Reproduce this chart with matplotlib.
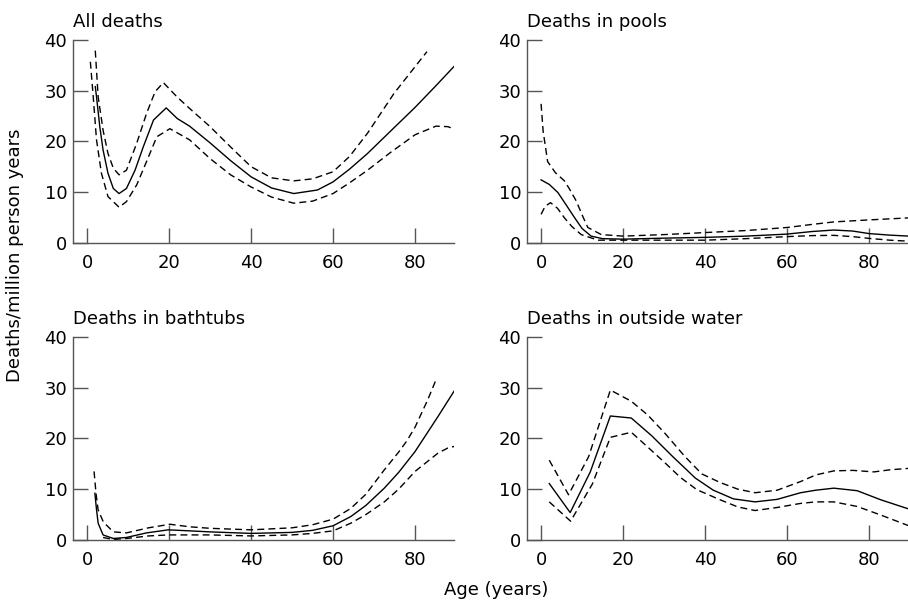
import matplotlib
matplotlib.use("Agg")
from matplotlib import pyplot as plt

plt.rcParams['font.family'] = ['DejaVu Sans']

# ---- data (age in years, deaths/million person years)
# All deaths
all_fit_age = [2, 2.3, 3.1, 3.9, 5.1, 6.4, 7.8, 9.6, 11.7, 13.7, 16.2, 19.3, 22, 25, 30, 35, 40,
               45, 50.4, 56.2, 60, 64, 68.4, 74, 80, 85, 90]
all_fit = [30.8, 28.8, 22.9, 18.3, 13.7, 10.7, 9.7, 10.7, 14.3, 18.9, 24.2, 26.6, 24.5, 23, 19.7,
           16.2, 13.0, 10.8, 9.7, 10.4, 12.0, 14.5, 17.6, 22, 26.7, 30.9, 35.2]
all_hi_age = [2, 2.7, 3.9, 5.1, 6.4, 7.8, 9.6, 12.1, 14.5, 16.6, 18.6, 21.9, 25, 30, 35, 40, 45,
              50.4, 55, 60, 64, 68.4, 74.9, 82.9]
all_hi = [37.9, 28.8, 22.2, 17.6, 14.7, 13.4, 14.3, 19.6, 25.5, 29.8, 31.6, 28.8, 26.5, 22.9,
          18.9, 15, 12.8, 12.2, 12.6, 14, 17, 21.6, 29.5, 37.7]
all_lo_age = [0.8, 1.5, 2.3, 3.5, 5.1, 7.8, 9.6, 12.1, 14.5, 17, 20.2, 25, 30, 35, 40, 45, 50.4,
              55, 60, 64, 68.4, 74, 80, 85.1, 88, 90.3]
all_lo = [35.7, 28.8, 20.3, 13.7, 9.1, 7.0, 8.1, 11.4, 16, 20.9, 22.5, 20.3, 16.6, 13.4, 11.0,
          9, 7.8, 8.2, 9.7, 11.8, 14.3, 17.8, 21.3, 23.0, 22.9, 22.2]

# Deaths in pools
pool_fit_age = [0, 2, 4.1, 6, 8.2, 10, 12.2, 15, 20, 30, 40, 50, 60, 66, 71.4, 76, 80, 85, 89.7]
pool_fit = [12.4, 11.5, 9.9, 7.6, 4.9, 2.8, 1.3, 0.8, 0.7, 0.9, 1.05, 1.3, 1.7, 2.2, 2.5, 2.3,
            1.8, 1.5, 1.3]
pool_hi_age = [0, 0.5, 1.6, 3.5, 5.7, 7, 8.6, 10, 11.4, 14.7, 20, 30, 40, 50, 60, 66, 71.4, 80,
               89.7]
pool_hi = [27.4, 22, 16, 13.8, 12.2, 10.5, 8.2, 5.5, 3.0, 1.6, 1.3, 1.6, 2.0, 2.4, 3.0, 3.6,
           4.1, 4.5, 4.9]
pool_lo_age = [0, 1, 2.3, 4, 5.7, 7.5, 9.8, 13.9, 20, 30, 40, 50, 60, 66, 71.4, 76, 80, 85, 89.7]
pool_lo = [5.6, 7.2, 7.9, 6.8, 4.9, 3.2, 1.6, 0.5, 0.5, 0.5, 0.5, 0.8, 1.2, 1.4, 1.45, 1.2,
           0.85, 0.5, 0.3]

# Deaths in bathtubs
bath_fit_age = [1.9, 2.3, 2.7, 3.9, 6.4, 9.6, 14.5, 19.8, 25, 30, 40, 50, 55, 60, 64.3, 68,
                72.5, 76, 80, 85.6, 90]
bath_fit = [9.2, 6, 3.3, 1.0, 0.3, 0.5, 1.4, 2.0, 1.8, 1.6, 1.3, 1.5, 1.9, 2.8, 4.6, 6.8, 10.2,
            13.3, 17.4, 24.3, 29.9]
bath_hi_age = [1.7, 2.2, 2.7, 4, 6.4, 9.6, 15, 20.2, 25, 30, 40, 50, 55, 60, 64.3, 68, 72.5, 76,
               78, 80, 83.1, 85.1]
bath_hi = [13.5, 9, 5.9, 3.5, 1.6, 1.4, 2.4, 3.1, 2.6, 2.3, 2.0, 2.4, 3.0, 4.1, 6.2, 9.0, 13.8,
           17.3, 19.5, 22.2, 27.6, 31.5]
bath_lo_age = [3.9, 6.4, 9.6, 15, 19.8, 30, 40, 50, 55, 60, 64.3, 68, 72.5, 76, 80, 85.6, 88, 90]
bath_lo = [0.5, 0.1, 0.3, 0.8, 1.0, 1.0, 0.8, 1.0, 1.3, 1.8, 3.3, 5.0, 7.5, 10.0, 13.5, 17.1,
           18.1, 18.5]

# Deaths in outside water
out_fit_age = [2, 7.1, 12, 16.9, 22, 27, 32, 37.6, 42, 46.9, 52.2, 57.6, 63.3, 67, 71.4,
               77.1, 82.9, 89.7]
out_fit = [11.1, 5.4, 13.4, 24.4, 24, 20.5, 16.5, 12.2, 9.8, 8.1, 7.5, 8.0, 9.3, 9.8, 10.2, 9.7,
           7.9, 6.1]
out_hi_age = [2, 6.7, 11.6, 16.9, 22, 26, 30.2, 35, 39.2, 43.7, 48, 52.2, 57.6, 63.3, 67, 71.4,
              76, 81.2, 85, 89.7]
out_hi = [15.7, 8.9, 16.4, 29.5, 27.3, 24.6, 21, 16.5, 13, 11.3, 10, 9.3, 9.8, 11.5, 12.8, 13.6,
          13.7, 13.4, 13.8, 14.1]
out_lo_age = [2, 7.2, 12.5, 16.9, 22, 26, 30.2, 34, 38, 43.7, 48, 52.2, 57.6, 63.3, 67, 71.4,
              77.1, 82.9, 89.7]
out_lo = [7.5, 3.7, 11, 20.2, 21.2, 18.3, 15.2, 12.3, 9.9, 7.9, 6.5, 5.8, 6.4, 7.2, 7.5, 7.5,
          6.6, 4.9, 2.8]

titles = ['All deaths', 'Deaths in pools', 'Deaths in bathtubs', 'Deaths in outside water']
panels = [
    (all_fit_age, all_fit, all_hi_age, all_hi, all_lo_age, all_lo),
    (pool_fit_age, pool_fit, pool_hi_age, pool_hi, pool_lo_age, pool_lo),
    (bath_fit_age, bath_fit, bath_hi_age, bath_hi, bath_lo_age, bath_lo),
    (out_fit_age, out_fit, out_hi_age, out_hi, out_lo_age, out_lo),
]

# axes rectangles in figure fractions
rects = [
    [0.0801, 0.5995, 0.4199, 0.3345],
    [0.5801, 0.5995, 0.4199, 0.3345],
    [0.0801, 0.1089, 0.4199, 0.3355],
    [0.5801, 0.1089, 0.4199, 0.3355],
]

fig = plt.figure(figsize=(9.08, 6.06), dpi=100)
axis_col = '#555555'
fs = 13

for rect, title, (fa, fv, ha, hv, la, lv) in zip(rects, titles, panels):
    ax = fig.add_axes(rect)
    ax.plot(fa, fv, color='black', lw=1.0)
    ax.plot(ha, hv, color='black', lw=1.0, ls=(0, (5, 3)))
    ax.plot(la, lv, color='black', lw=1.0, ls=(0, (5, 3)))
    ax.set_xlim(-3.5, 89.5)
    ax.set_ylim(0, 40)
    ax.set_xticks([0, 20, 40, 60, 80])
    ax.set_yticks([0, 10, 20, 30, 40])
    for s in ['top', 'right']:
        ax.spines[s].set_visible(False)
    for s in ['left', 'bottom']:
        ax.spines[s].set_color(axis_col)
        ax.spines[s].set_linewidth(1.0)
    ax.tick_params(axis='x', direction='in', length=11, width=1.0, color=axis_col,
                   pad=8, labelsize=fs)
    ax.tick_params(axis='y', direction='in', length=11, width=1.0, color=axis_col,
                   pad=4, labelsize=fs)
    ax.set_title(title, loc='left', fontsize=fs, pad=9)
    ax.patch.set_visible(False)

fig.text(0.017, 0.579, 'Deaths/million person years', rotation=90, ha='center', va='center',
         fontsize=fs)
fig.text(0.546, 0.026, 'Age (years)', ha='center', va='center', fontsize=fs)

plt.savefig('out.png', dpi=100)
